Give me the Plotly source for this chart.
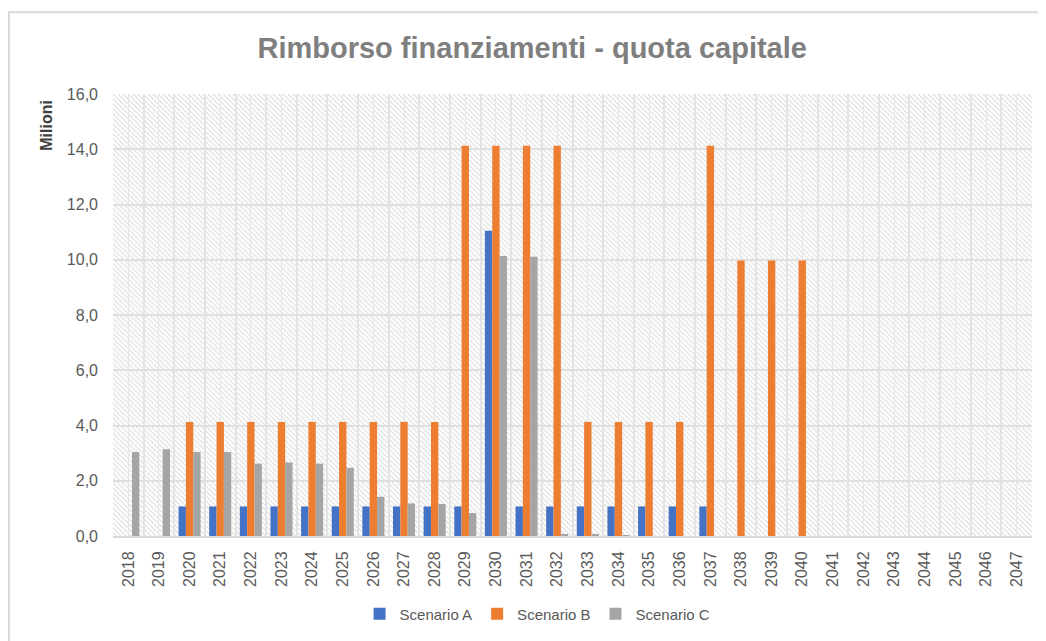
import base64
import plotly.graph_objects as go

years = list(range(2018, 2048))
scenario_a = [0, 0, 1.07, 1.07, 1.07, 1.07, 1.07, 1.07, 1.07, 1.07, 1.07, 1.07,
              11.05, 1.07, 1.07, 1.07, 1.07, 1.07, 1.07, 1.07,
              0, 0, 0, 0, 0, 0, 0, 0, 0, 0]
scenario_b = [0, 0, 4.13, 4.13, 4.13, 4.13, 4.13, 4.13, 4.13, 4.13, 4.13,
              14.13, 14.13, 14.13, 14.13, 4.13, 4.13, 4.13, 4.13, 14.13,
              9.97, 9.97, 9.97, 0, 0, 0, 0, 0, 0, 0]
scenario_c = [3.04, 3.14, 3.04, 3.04, 2.62, 2.66, 2.62, 2.47, 1.42, 1.18, 1.16, 0.83,
              10.14, 10.11, 0.06, 0.04, 0.03, 0, 0, 0,
              0, 0, 0, 0, 0, 0, 0, 0, 0, 0]
series_names = ["Scenario A", "Scenario B", "Scenario C"]
series_colors = ["#4472C4", "#ED7D31", "#A5A5A5"]

FONT = "Liberation Sans Narrow, Arial Narrow, Liberation Sans, Arial, sans-serif"

fig = go.Figure()
for name, vals, col in zip(series_names, [scenario_a, scenario_b, scenario_c], series_colors):
    fig.add_trace(go.Bar(x=years, y=vals, name=name, marker=dict(color=col, line=dict(width=0))))

svg = ('<svg xmlns="http://www.w3.org/2000/svg" width="919" height="443" viewBox="0 0 919 443" '
       'preserveAspectRatio="none"><defs><pattern id="h" width="5" height="5" '
       'patternUnits="userSpaceOnUse"><path d="M-1,-1 L6,6 M-1,4 L1,6 M4,-1 L6,1" '
       'stroke="#e2e2e2" stroke-width="1.3"/></pattern></defs>'
       '<rect width="100%" height="100%" fill="url(#h)"/></svg>')
uri = "data:image/svg+xml;base64," + base64.b64encode(svg.encode()).decode()

# page body adds an 8px offset; figure is sized so it fills the window exactly
fig.update_layout(
    width=1038, height=633,
    margin=dict(l=105, r=14, t=86, b=104),
    paper_bgcolor="white",
    plot_bgcolor="rgba(0,0,0,0)",
    separators=",.",
    barmode="group",
    bargap=0.28,
    bargroupgap=0,
    font=dict(family=FONT, color="#595959", size=16),
    title=dict(text="<b>Rimborso finanziamenti - quota capitale</b>",
               x=0.505, xanchor="center", y=0.937, yanchor="middle",
               font=dict(family=FONT, size=29, color="#7f7f7f")),
    legend=dict(orientation="h", x=0.462, xanchor="center", y=-0.174, yanchor="middle",
                font=dict(family=FONT, size=15, color="#595959"),
                itemwidth=30, traceorder="normal"),
    images=[dict(source=uri, xref="paper", yref="paper", x=0, y=1, sizex=1, sizey=1,
                 xanchor="left", yanchor="top", sizing="stretch", layer="below")],
    shapes=[dict(type="rect", xref="paper", yref="paper", x0=-0.1132, x1=1.05,
                 y0=-0.3, y1=1.185, line=dict(color="#d9d9d9", width=2),
                 fillcolor="rgba(0,0,0,0)", layer="below")],
    annotations=[dict(text="<b>Milioni</b>", textangle=-90, xref="paper", yref="paper",
                      x=-0.072, y=0.93, xanchor="center", yanchor="middle", showarrow=False,
                      font=dict(family=FONT, size=16, color="#404040"))],
)

fig.update_xaxes(
    range=[2017.5, 2047.5],
    tickmode="linear", tick0=2018, dtick=1,
    tickangle=-90,
    tickfont=dict(family=FONT, size=16, color="#595959"),
    ticklabelstandoff=7,
    showgrid=True, gridcolor="#e6e6e6", gridwidth=1.2,
    minor=dict(tickmode="linear", tick0=2017.5, dtick=1, showgrid=True,
               gridcolor="#e3e3e3", gridwidth=1.5),
    showline=True, linecolor="#d9d9d9", linewidth=2,
    ticks="", zeroline=False,
)
fig.update_yaxes(
    range=[0, 16], dtick=2, tickformat=".1f",
    tickfont=dict(family=FONT, size=16, color="#595959"),
    ticklabelstandoff=14,
    showgrid=True, gridcolor="#e0e0e0", gridwidth=1.5,
    showline=False, zeroline=False, ticks="",
)

fig.write_html("out.html")
